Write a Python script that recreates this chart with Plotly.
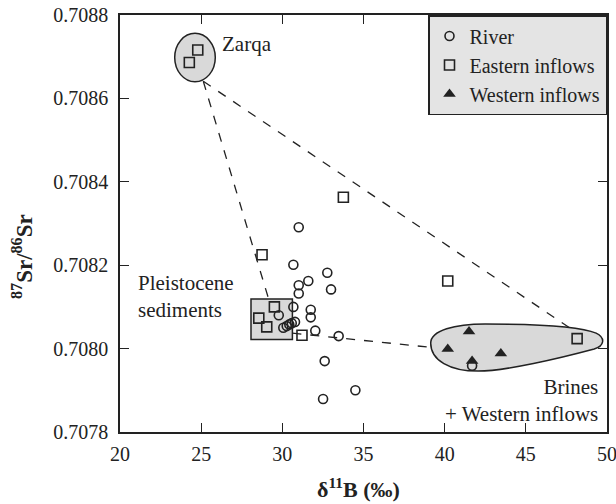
import plotly.graph_objects as go

# ---- data ----
river_x = [31.01, 30.68, 32.77, 31.60, 31.01, 33.00, 31.01, 30.68, 31.75, 29.78, 31.75,
           30.06, 30.27, 30.43, 30.58, 30.78, 32.03, 33.47, 32.61, 34.50, 32.51, 41.69]
river_y = [0.708291, 0.708201, 0.708182, 0.708162, 0.708152, 0.708142, 0.708132, 0.708100,
           0.708093, 0.708080, 0.708075, 0.708050, 0.708054, 0.708058, 0.708061, 0.708064,
           0.708043, 0.708030, 0.707970, 0.707900, 0.707879, 0.707959]
east_x = [24.79, 24.27, 28.75, 33.76, 29.51, 28.55, 29.04, 31.21, 40.19, 48.16]
east_y = [0.708716, 0.708686, 0.708225, 0.708363, 0.708100, 0.708073, 0.708052, 0.708032,
          0.708162, 0.708024]
west_x = [41.50, 40.19, 43.46, 41.69]
west_y = [0.708041, 0.707999, 0.707988, 0.707970]

x_ticks = [20, 25, 30, 35, 40, 45, 50]
y_ticks = [0.7078, 0.7080, 0.7082, 0.7084, 0.7086, 0.7088]

FONT = "Times New Roman, Liberation Serif, DejaVu Serif, serif"
INK = "#222222"
FILL = "#d9d9d9"

fig = go.Figure()
fig.add_trace(go.Scatter(x=river_x, y=river_y, mode="markers", name="River",
                         marker=dict(symbol="circle-open", size=9, color=INK,
                                     line=dict(width=1.6, color=INK))))
fig.add_trace(go.Scatter(x=east_x, y=east_y, mode="markers", name="Eastern inflows",
                         marker=dict(symbol="square-open", size=10, color=INK,
                                     line=dict(width=1.6, color=INK))))
fig.add_trace(go.Scatter(x=west_x, y=west_y, mode="markers", name="Western inflows",
                         marker=dict(symbol="triangle-up", size=11, color=INK)))

shapes = []
# Zarqa ellipse
shapes.append(dict(type="circle", xref="x", yref="y", x0=23.37, x1=25.87,
                   y0=0.708640, y1=0.708756, fillcolor=FILL,
                   line=dict(color=INK, width=1.5), layer="below"))
# Pleistocene sediments box
shapes.append(dict(type="rect", xref="x", yref="y", x0=28.07, x1=30.62,
                   y0=0.708022, y1=0.708119, fillcolor=FILL,
                   line=dict(color=INK, width=1.5), layer="below"))
# Brines teardrop
P = [(39.14, 0.708013),
     (39.14, 0.708044), (40.64, 0.708059), (42.49, 0.708059),
     (45.88, 0.708059), (48.34, 0.708054), (49.33, 0.708037),
     (49.94, 0.708025), (49.82, 0.708006), (49.21, 0.707999),
     (47.11, 0.707977), (43.72, 0.707946), (42.06, 0.707946),
     (40.33, 0.707946), (39.14, 0.707972), (39.14, 0.708013)]
path = "M {},{} ".format(*P[0])
for i in range(1, len(P), 3):
    path += "C {},{} {},{} {},{} ".format(*P[i], *P[i + 1], *P[i + 2])
path += "Z"
shapes.append(dict(type="path", xref="x", yref="y", path=path, fillcolor=FILL,
                   line=dict(color=INK, width=1.5), layer="below"))
# dashed connectors
for (x0, y0, x1, y1) in [(25.13, 0.708641, 47.73, 0.708049),
                         (25.13, 0.708641, 29.14, 0.708121),
                         (30.62, 0.708037, 39.14, 0.708003)]:
    shapes.append(dict(type="line", xref="x", yref="y", x0=x0, y0=y0, x1=x1, y1=y1,
                       line=dict(color=INK, width=1.3, dash="dash"), layer="below"))

annotations = [
    dict(x=26.16, y=0.70873, xref="x", yref="y", text="Zarqa", showarrow=False,
         xanchor="left", yanchor="middle", font=dict(size=21, family=FONT, color=INK)),
    dict(x=20.99, y=0.708124, xref="x", yref="y", text="Pleistocene<br>sediments",
         showarrow=False, xanchor="left", yanchor="middle", align="left",
         font=dict(size=21, family=FONT, color=INK)),
    dict(x=49.58, y=0.707876, xref="x", yref="y", text="Brines<br>+ Western inflows",
         showarrow=False, xanchor="right", yanchor="middle", align="right",
         font=dict(size=21, family=FONT, color=INK)),
    dict(x=0.49, y=-0.135, xref="paper", yref="paper",
         text="<b>δ<sup>11</sup>B (‰)</b>", showarrow=False, xanchor="center",
         yanchor="middle", font=dict(size=22, family=FONT, color=INK)),
    dict(x=-0.199, y=0.42, xref="paper", yref="paper",
         text="<b><sup>87</sup>Sr/<sup>86</sup>Sr</b>", showarrow=False, textangle=-90,
         xanchor="center", yanchor="middle", font=dict(size=23, family=FONT, color=INK)),
]

axis_common = dict(showgrid=False, zeroline=False, showline=True, linecolor=INK,
                   linewidth=1.5, mirror="ticks", ticks="inside", ticklen=9,
                   tickwidth=1.3, tickcolor=INK, automargin=False,
                   ticklabeloverflow="allow",
                   tickfont=dict(size=20, family=FONT, color=INK))

fig.update_layout(
    width=616, height=504,
    margin=dict(l=120, r=9, t=15, b=72),
    paper_bgcolor="white", plot_bgcolor="white",
    font=dict(family=FONT, color=INK),
    shapes=shapes, annotations=annotations,
    xaxis=dict(range=[20, 50], tickvals=x_ticks, ticklabelstandoff=3, **axis_common),
    yaxis=dict(range=[0.7078, 0.7088], tickvals=y_ticks, tickformat=".4f",
               ticklabelstandoff=6, **axis_common),
    legend=dict(x=1, y=1, xanchor="right", yanchor="top", bgcolor="#e4e4e4",
                bordercolor=INK, borderwidth=1.5, itemwidth=30,
                font=dict(size=20, family=FONT, color=INK), tracegroupgap=0),
    showlegend=True,
)

fig.write_html("out.html")
